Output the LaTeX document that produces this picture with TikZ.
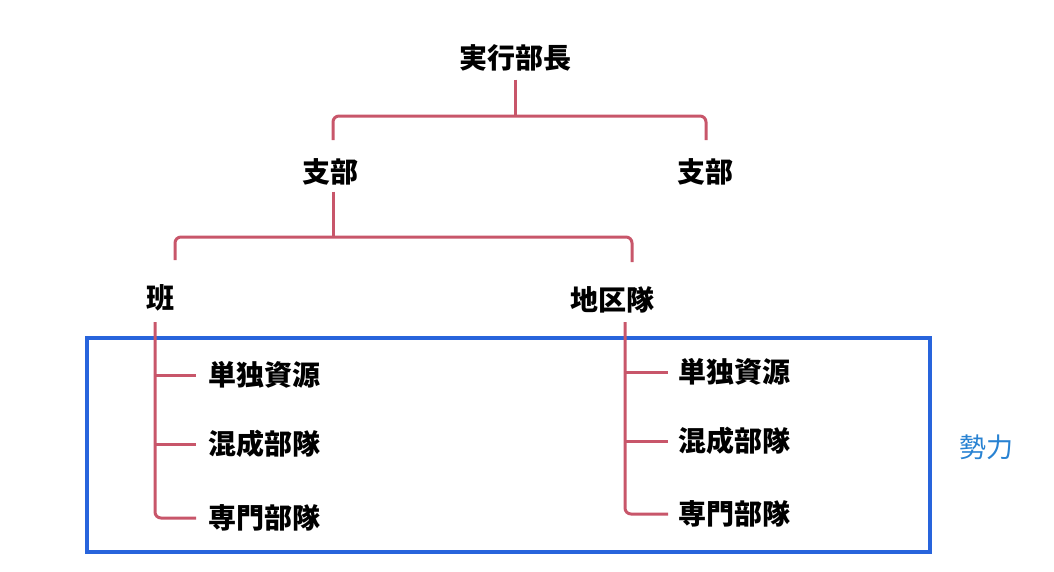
\documentclass[tikz,border=0pt]{standalone}
\usepackage{fontspec}
\newfontfamily\cjk{Noto Sans CJK JP}
\begin{document}
\begin{tikzpicture}[x=1pt,y=-1pt,
  lbl/.style={font=\cjk\bfseries\fontsize{28}{28}\selectfont, inner sep=0pt, text=black},
  conn/.style={draw={rgb,255:red,200;green,86;blue,106}, line width=3pt, rounded corners=6pt},
  box/.style={draw={rgb,255:red,40;green,100;blue,220}, line width=3.5pt}]
\useasboundingbox (0,0) rectangle (1054,571);
\node[lbl] (ops) at (515,58) {実行部長};
\node[lbl] (b1) at (330,172) {支部};
\node[lbl] (b2) at (705,172) {支部};
\node[lbl] (d1) at (160,298) {班};
\node[lbl] (d2) at (612,300) {地区隊};
\node[lbl, anchor=west] (l1) at (208,375) {単独資源};
\node[lbl, anchor=west] (l2) at (208,444) {混成部隊};
\node[lbl, anchor=west] (l3) at (208,518) {専門部隊};
\node[lbl, anchor=west] (r1) at (678,372) {単独資源};
\node[lbl, anchor=west] (r2) at (678,441) {混成部隊};
\node[lbl, anchor=west] (r3) at (678,514) {専門部隊};
\node[font=\cjk\fontsize{27}{27}\selectfont, text={rgb,255:red,40;green,130;blue,210}, inner sep=0pt] (res) at (986,447) {勢力};
\draw[box] (87,338) rectangle (930,552);
% connectors
\coordinate (c0) at (515,116);
\draw[conn] (ops.south) ++(0,8) -- (c0);
\draw[conn] (333,140) |- (706,116) -- (706,140);
\draw[conn] (b1.south) ++(3,6) -- (333,237);
\draw[conn] (175,260) |- (632,237) -- (632,262);
\draw[conn] (155,322) |- ([xshift=-12pt]l3.west);
\draw[conn] (155,375) -- ([xshift=-12pt]l1.west);
\draw[conn] (155,444) -- ([xshift=-12pt]l2.west);
\draw[conn] (625,322) |- ([xshift=-10pt]r3.west);
\draw[conn] (625,372) -- ([xshift=-10pt]r1.west);
\draw[conn] (625,441) -- ([xshift=-10pt]r2.west);
\end{tikzpicture}
\end{document}
